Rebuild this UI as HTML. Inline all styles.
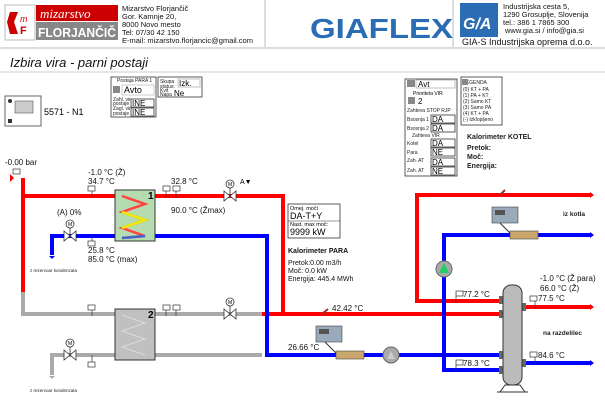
<!DOCTYPE html>
<html><head><meta charset="utf-8"><style>
html,body{margin:0;padding:0;background:#fff;}
svg{display:block;font-family:"Liberation Sans",sans-serif;}
</style></head><body>
<svg width="605" height="403" viewBox="0 0 605 403" xmlns="http://www.w3.org/2000/svg">
<rect width="605" height="403" fill="#fff"/>
<!-- header -->
<rect x="5" y="5" width="30" height="35" fill="#fff" stroke="#bbb"/>
<path d="M10 12 L18 12 L14 22 L18 34 L10 34 L7 22Z" fill="#c00"/>
<text x="20" y="22" font-size="9" font-style="italic" fill="#c00">m</text>
<text x="20" y="34" font-size="11" font-weight="bold" fill="#c00">F</text>
<rect x="36" y="5" width="82" height="16" fill="#c00"/>
<text x="40" y="18" font-size="13" font-style="italic" fill="#fff" font-family="Liberation Serif">mizarstvo</text>
<rect x="36" y="22" width="82" height="18" fill="#888"/>
<text x="38" y="37" font-size="13" fill="#fff" font-weight="bold" textLength="78" lengthAdjust="spacingAndGlyphs">FLORJANČIČ</text>
<g font-size="7.5" fill="#111">
<text x="122" y="11">Mizarstvo Florjančič</text>
<text x="122" y="19">Gor. Kamnje 20,</text>
<text x="122" y="27">8000 Novo mesto</text>
<text x="122" y="35">Tel: 07/30 42 150</text>
<text x="122" y="43">E-mail: mizarstvo.florjancic@gmail.com</text>
</g>
<line x1="265" y1="0" x2="265" y2="47" stroke="#bbb"/>
<line x1="453" y1="0" x2="453" y2="47" stroke="#bbb"/>
<text x="310" y="38" font-size="28" font-weight="bold" fill="#2a6db5" textLength="143" lengthAdjust="spacingAndGlyphs">GIAFLEX</text>
<rect x="460" y="3" width="38" height="34" fill="#2a6db5"/>
<text x="463" y="29" font-size="16" font-weight="bold" font-style="italic" fill="#fff">G/A</text>
<g font-size="7.5" fill="#111">
<text x="503" y="9">Industrijska cesta 5,</text>
<text x="503" y="17">1290 Grosuplje, Slovenija</text>
<text x="503" y="25">tel.: 386 1 7865 300</text>
<text x="505" y="33">www.gia.si / info@gia.si</text>
</g>
<text x="462" y="45" font-size="9" fill="#111">GIA-S Industrijska oprema d.o.o.</text>
<line x1="0" y1="48" x2="605" y2="48" stroke="#bbb"/>
<text x="10" y="67" font-size="13" font-style="italic" fill="#111">Izbira vira - parni postaji</text>
<line x1="0" y1="72" x2="605" y2="72" stroke="#ccc"/>

<!-- control boxes -->
<g stroke="#333" fill="#fff" stroke-width="0.8">
<rect x="111" y="77" width="45" height="40"/>
<rect x="158" y="77" width="44" height="20"/>
<rect x="405" y="79" width="52" height="97"/>
<rect x="461" y="77" width="41" height="48"/>
</g>
<g font-size="5" fill="#222">
<text x="117" y="82">Postaja PARA 1</text>
<text x="160" y="83">Skupa</text><text x="160" y="88">status:</text>
<text x="160" y="92">Kvit</text><text x="160" y="96">Napa</text>
<text x="113" y="101">Zahl. vir</text><text x="113" y="105">postaje</text>
<text x="113" y="110">Zagl. vir</text><text x="113" y="115">postaje</text>
</g>
<rect x="113" y="86" width="7" height="7" fill="#888"/>
<rect x="122" y="85" width="32" height="10" fill="#fff" stroke="#aaa" stroke-width="0.6"/>
<text x="124" y="93" font-size="9">Avto</text>
<rect x="131" y="99" width="23" height="8" fill="#fff" stroke="#333" stroke-width="0.8"/>
<text x="132" y="106" font-size="8">INE</text>
<rect x="131" y="108" width="23" height="8" fill="#fff" stroke="#333" stroke-width="0.8"/>
<text x="132" y="115" font-size="8">INE</text>
<rect x="178" y="79" width="22" height="8" fill="#fff" stroke="#999" stroke-width="0.6"/>
<text x="179" y="86" font-size="8">Izk.</text>
<text x="174" y="96" font-size="8">Ne</text>

<rect x="5" y="96" width="36" height="30" fill="#fff" stroke="#666"/>
<rect x="15" y="101" width="18" height="12" fill="#ccc" stroke="#555" stroke-width="0.6"/>
<circle cx="10" cy="101" r="2" fill="#333"/>
<rect x="8" y="119" width="4" height="4" fill="#333"/>
<text x="44" y="115" font-size="9">5571 - N1</text>

<!-- right panel -->
<rect x="407" y="80" width="8" height="7" fill="#888"/>
<rect x="416" y="80" width="39" height="8" fill="#fff" stroke="#999" stroke-width="0.6"/>
<text x="418" y="87" font-size="8">Avt</text>
<text x="413" y="95" font-size="5">Prioriteta VIR</text>
<rect x="408" y="97" width="7" height="7" fill="#888"/>
<text x="418" y="104" font-size="8">2</text>
<g font-size="5" fill="#222">
<text x="407" y="112">Zahteva STOP RJP</text>
<text x="407" y="121">Bsosnja 1</text>
<text x="407" y="130">Bsosnja 2</text>
<text x="412" y="137">Zahteva VIR</text>
<text x="407" y="145">Kotel</text>
<text x="407" y="154">Para</text>
<text x="407" y="162">Zah. AT</text>
<text x="407" y="172">Zah. AT</text>
<text x="463" y="84">LEGENDA</text>
<text x="463" y="91">(0) KT + PA</text>
<text x="463" y="97">(1) PA + KT</text>
<text x="463" y="103">(2) Samo KT</text>
<text x="463" y="109">(3) Samo PA</text>
<text x="463" y="115">(4) KT + PA</text>
<text x="463" y="121">(-) Izklopljeno</text>
</g>
<rect x="462" y="79" width="6" height="6" fill="#888"/>
<g fill="#fff" stroke="#333" stroke-width="0.8">
<rect x="431" y="115" width="24" height="8"/><rect x="431" y="124" width="24" height="8"/>
<rect x="431" y="139" width="24" height="8"/><rect x="431" y="148" width="24" height="8"/>
<rect x="431" y="158" width="24" height="8"/><rect x="431" y="167" width="24" height="8"/>
</g>
<g font-size="8">
<text x="432" y="122">DA</text><text x="432" y="131">DA</text>
<text x="432" y="146">DA</text><text x="432" y="155">NE</text>
<text x="432" y="165">DA</text><text x="432" y="174">NE</text>
</g>
<g font-size="7" font-weight="bold" fill="#222">
<text x="467" y="139">Kalorimeter KOTEL</text>
<text x="467" y="150">Pretok:</text>
<text x="467" y="159">Moč:</text>
<text x="467" y="168">Energija:</text>
</g>

<!-- pipes -->
<g fill="none" stroke-width="4">
<polyline points="23,178 23,292" stroke="#f00"/>
<polyline points="23,292 23,314 262,314" stroke="#aaa"/>
<polyline points="23,196 283,196 283,314" stroke="#f00"/>
<polyline points="262,314 503,314" stroke="#f00"/>
<polyline points="52,255 52,236 267,236 267,355 503,355" stroke="#00f"/>
<polyline points="52,375 52,355 262,355" stroke="#aaa"/>
<polyline points="590,195 417,195 417,301 503,301" stroke="#f00"/>
<polyline points="590,235 444,235 444,370 503,370" stroke="#00f"/>
<line x1="522" y1="307" x2="590" y2="307" stroke="#f00"/>
<line x1="522" y1="363" x2="590" y2="363" stroke="#00f"/>
</g>
<path d="M10 174 L14 178 L10 182Z" fill="#f00"/>
<path d="M49 256 L55 256 L52 259Z" fill="#00f"/>
<path d="M49 376 L55 376 L52 379Z" fill="#aaa"/>
<g fill="#f00"><path d="M590 192 L594 195 L590 198Z"/><path d="M590 304 L594 307 L590 310Z"/></g>
<g fill="#00f"><path d="M590 232 L594 235 L590 238Z"/><path d="M590 360 L594 363 L590 366Z"/></g>

<!-- heat exchangers -->
<rect x="115" y="190" width="40" height="51" fill="#b5dcb0" stroke="#333"/>
<polyline points="122,196 145,204 122,212 145,220 122,228 145,236 122,238" fill="none" stroke="#f44" stroke-width="2.5"/>
<polyline points="122,212 145,220 122,228" fill="none" stroke="#ee0" stroke-width="2.5"/>
<polyline points="145,236 122,238" fill="none" stroke="#46c" stroke-width="2.5"/>
<text x="148" y="199" font-size="10" font-weight="bold">1</text>
<rect x="115" y="309" width="40" height="51" fill="#c0c0c0" stroke="#333"/>
<polyline points="122,315 145,323 122,331 145,339 122,347 145,355" fill="none" stroke="#ddd" stroke-width="1"/>
<text x="148" y="318" font-size="10" font-weight="bold">2</text>

<!-- valves -->
<g fill="#fff" stroke="#333" stroke-width="0.8">
<g transform="translate(230,196)"><path d="M-6 -5 L6 5 L6 -5 L-6 5Z"/><line x1="0" y1="0" x2="0" y2="-8"/><circle cx="0" cy="-12" r="4"/></g>
<g transform="translate(70,236)"><path d="M-6 -5 L6 5 L6 -5 L-6 5Z"/><line x1="0" y1="0" x2="0" y2="-8"/><circle cx="0" cy="-12" r="4"/></g>
<g transform="translate(230,314)"><path d="M-6 -5 L6 5 L6 -5 L-6 5Z"/><line x1="0" y1="0" x2="0" y2="-8"/><circle cx="0" cy="-12" r="4"/></g>
<g transform="translate(70,355)"><path d="M-6 -5 L6 5 L6 -5 L-6 5Z"/><line x1="0" y1="0" x2="0" y2="-8"/><circle cx="0" cy="-12" r="4"/></g>
</g>
<g font-size="5"><text x="228" y="186">M</text><text x="68" y="226">M</text><text x="228" y="304">M</text><text x="68" y="345">M</text></g>
<text x="240" y="184" font-size="7">A▼</text>

<!-- sensors -->
<g fill="#fff" stroke="#333" stroke-width="0.7">
<rect x="88" y="186" width="7" height="5"/><rect x="163" y="186" width="7" height="5"/><rect x="173" y="186" width="7" height="5"/>
<rect x="88" y="241" width="7" height="5"/>
<rect x="88" y="305" width="7" height="5"/><rect x="163" y="305" width="7" height="5"/><rect x="173" y="305" width="7" height="5"/>
<rect x="88" y="362" width="7" height="5"/>
<rect x="13" y="169" width="7" height="5"/>
<rect x="456" y="291" width="7" height="5"/><rect x="456" y="360" width="7" height="5"/>
<rect x="530" y="296" width="7" height="5"/><rect x="530" y="352" width="7" height="5"/>
</g>
<g stroke="#333" stroke-width="0.7">
<line x1="92" y1="191" x2="92" y2="196"/><line x1="166" y1="191" x2="166" y2="198"/><line x1="176" y1="191" x2="176" y2="198"/>
<line x1="92" y1="236" x2="92" y2="241"/><line x1="92" y1="310" x2="92" y2="316"/>
<line x1="166" y1="310" x2="166" y2="316"/><line x1="176" y1="310" x2="176" y2="316"/>
<line x1="92" y1="355" x2="92" y2="362"/>
<line x1="456" y1="296" x2="456" y2="303"/><line x1="456" y1="365" x2="456" y2="372"/>
<line x1="535" y1="301" x2="535" y2="309"/><line x1="535" y1="357" x2="535" y2="365"/>
</g>

<!-- pumps -->
<circle cx="444" cy="269" r="8" fill="#aaa" stroke="#666"/><path d="M439 273 L444 263 L449 273Z" fill="#2c6"/>
<circle cx="391" cy="355" r="8" fill="#aaa" stroke="#666"/><path d="M387 359 L391 351 L395 359Z" fill="#ccc"/>

<!-- heat meters -->
<rect x="492" y="207" width="26" height="16" fill="#9ab" stroke="#444" stroke-width="0.6"/>
<rect x="495" y="210" width="10" height="5" fill="#555"/>
<rect x="316" y="326" width="26" height="16" fill="#9ab" stroke="#444" stroke-width="0.6"/>
<rect x="319" y="329" width="10" height="5" fill="#555"/>
<rect x="510" y="231" width="28" height="8" fill="#c9a66b" stroke="#444" stroke-width="0.6"/>
<rect x="336" y="351" width="28" height="8" fill="#c9a66b" stroke="#444" stroke-width="0.6"/>
<line x1="500" y1="223" x2="510" y2="233" stroke="#333"/>
<line x1="325" y1="342" x2="336" y2="353" stroke="#333"/>
<line x1="500" y1="195" x2="505" y2="190" stroke="#933" stroke-width="2"/>
<line x1="322" y1="314" x2="328" y2="309" stroke="#933" stroke-width="2"/>

<!-- tank -->
<rect x="499" y="296" width="4" height="8" fill="#666"/><rect x="499" y="310" width="4" height="8" fill="#666"/>
<rect x="499" y="351" width="4" height="8" fill="#666"/><rect x="499" y="366" width="4" height="8" fill="#666"/>
<rect x="522" y="303" width="4" height="8" fill="#666"/><rect x="522" y="359" width="4" height="8" fill="#666"/>
<rect x="503" y="285" width="19" height="100" rx="8" fill="#bbb" stroke="#333"/>
<path d="M500 392 L505 385 L520 385 L525 392" fill="none" stroke="#333"/>
<line x1="497" y1="392" x2="528" y2="392" stroke="#333"/>

<!-- Kalorimeter PARA -->
<rect x="288" y="204" width="52" height="34" fill="#fff" stroke="#333" stroke-width="0.8"/>
<line x1="288" y1="221" x2="340" y2="221" stroke="#333" stroke-width="0.6"/>
<g font-size="5.5"><text x="290" y="210">Omej. moči</text><text x="290" y="226">Nast. max moč:</text></g>
<text x="290" y="219" font-size="9">DA-T+Y</text>
<text x="290" y="235" font-size="9">9999 kW</text>
<g font-size="7" fill="#111">
<text x="288" y="253" font-weight="bold">Kalorimeter PARA</text>
<text x="288" y="265">Pretok:0.00 m3/h</text>
<text x="288" y="273">Moč: 0.0 kW</text>
<text x="288" y="281">Energija: 445.4 MWh</text>
</g>

<!-- labels -->
<g font-size="8" fill="#111">
<text x="5" y="165">-0.00 bar</text>
<text x="88" y="175">-1.0 °C (Ž)</text>
<text x="88" y="184">34.7 °C</text>
<text x="171" y="184">32.8 °C</text>
<text x="171" y="213">90.0 °C (Žmax)</text>
<text x="57" y="215">(A) 0%</text>
<text x="88" y="253">25.8 °C</text>
<text x="88" y="262">85.0 °C (max)</text>
<text x="332" y="311">42.42 °C</text>
<text x="288" y="350">26.66 °C</text>
<text x="463" y="297">77.2 °C</text>
<text x="463" y="366">78.3 °C</text>
<text x="538" y="301">77.5 °C</text>
<text x="538" y="358">84.6 °C</text>
<text x="540" y="281">-1.0 °C (Ž para)</text>
<text x="540" y="291">66.0 °C (Ž)</text>
</g>
<g font-size="6.5" font-weight="bold" fill="#222">
<text x="563" y="216">iz kotla</text>
<text x="543" y="335">na razdelilec</text>
</g>
<g font-size="4.5" fill="#222">
<text x="30" y="272">z rezervoar kondenzata</text>
<text x="30" y="392">z rezervoar kondenzata</text>
</g>
</svg>
</body></html>
